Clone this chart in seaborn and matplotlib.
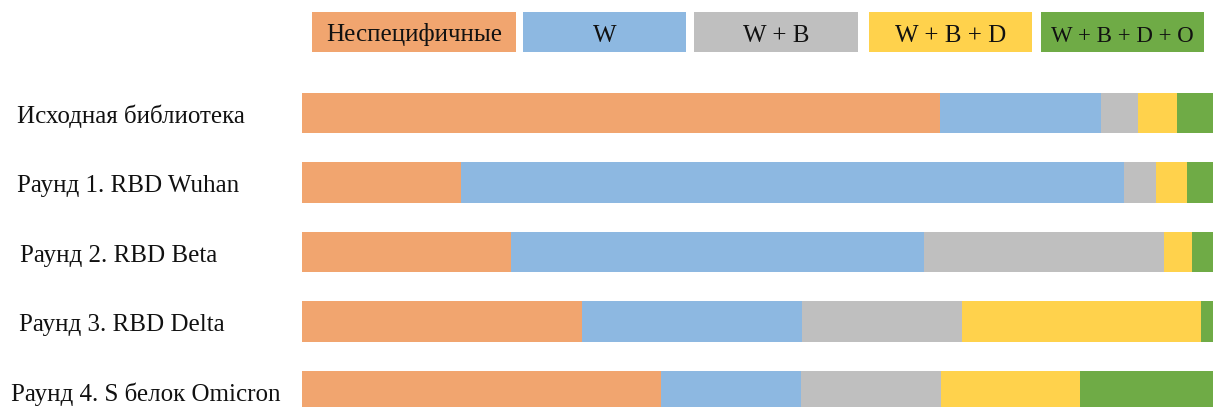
import matplotlib
matplotlib.use("Agg")
import matplotlib.pyplot as plt
import matplotlib.transforms as mtransforms
from matplotlib.patches import Rectangle
import numpy as np
import seaborn as sns

# Share of clones per specificity class after each selection round (%)
rows = [
    "Исходная библиотека",
    "Раунд 1. RBD Wuhan",
    "Раунд 2. RBD Beta",
    "Раунд 3. RBD Delta",
    "Раунд 4. S белок Omicron",
]
series_names = ["Неспецифичные", "W", "W + B", "W + B + D", "W + B + D + O"]
nonspecific = [69.5, 17.3, 22.8, 30.5, 39.1]
w_only = [17.5, 72.2, 45.0, 24.0, 15.3]
w_b = [4.1, 3.5, 26.1, 17.4, 15.2]
w_b_d = [4.2, 3.4, 3.0, 26.0, 15.1]
w_b_d_o = [4.7, 3.6, 3.1, 2.1, 15.3]

colors = ["#F1A56F", "#8DB8E1", "#BFBFBF", "#FFD24C", "#6FAB46"]

plt.rcParams["font.family"] = ["Liberation Serif", "DejaVu Serif"]

W, H = 1213, 407
fig = plt.figure(figsize=(W / 100, H / 100), dpi=100)
ax = fig.add_axes([302 / W, 0, 1 - 302 / W, 1])

values = np.array([nonspecific, w_only, w_b, w_b_d, w_b_d_o])
cumulative = np.cumsum(values, axis=0)

# Stacked bars: draw the running totals from the widest down
for k in range(len(series_names) - 1, -1, -1):
    sns.barplot(x=cumulative[k], y=rows, orient="h", color=colors[k],
                saturation=1, width=0.576, linewidth=0, ax=ax)

ax.set_xlim(0, 99.24)
ax.set_ylim(4.23, -1.626)
ax.set_xticks([])
ax.set_yticks([])
ax.set_xlabel("")
ax.set_ylabel("")
for s in ax.spines.values():
    s.set_visible(False)

# Row labels, baseline slightly below each bar's centre
label_left_px = [17, 17, 20, 19, 11]
trans = mtransforms.blended_transform_factory(fig.transFigure, ax.transData)
for i, name in enumerate(rows):
    ax.text(label_left_px[i] / W, i + 0.137, name, transform=trans,
            ha="left", va="baseline", fontsize=18, color="#111111",
            clip_on=False)

# Legend as coloured boxes with the class names inside
box_left = [312, 523, 694, 869, 1041]
box_right = [516, 686, 858, 1032, 1204]
box_font = [18, 18, 18, 18, 16.5]
box_top, box_bottom = 12, 52
text_baseline = 41.5
for k, name in enumerate(series_names):
    x0 = box_left[k] / W
    wdt = (box_right[k] - box_left[k]) / W
    y0 = 1 - box_bottom / H
    hgt = (box_bottom - box_top) / H
    fig.add_artist(Rectangle((x0, y0), wdt, hgt, transform=fig.transFigure,
                             facecolor=colors[k], edgecolor="none"))
    fig.text(x0 + wdt / 2, 1 - text_baseline / H, name, ha="center",
             va="baseline", fontsize=box_font[k], color="#111111")

fig.savefig("out.png", dpi=100)
